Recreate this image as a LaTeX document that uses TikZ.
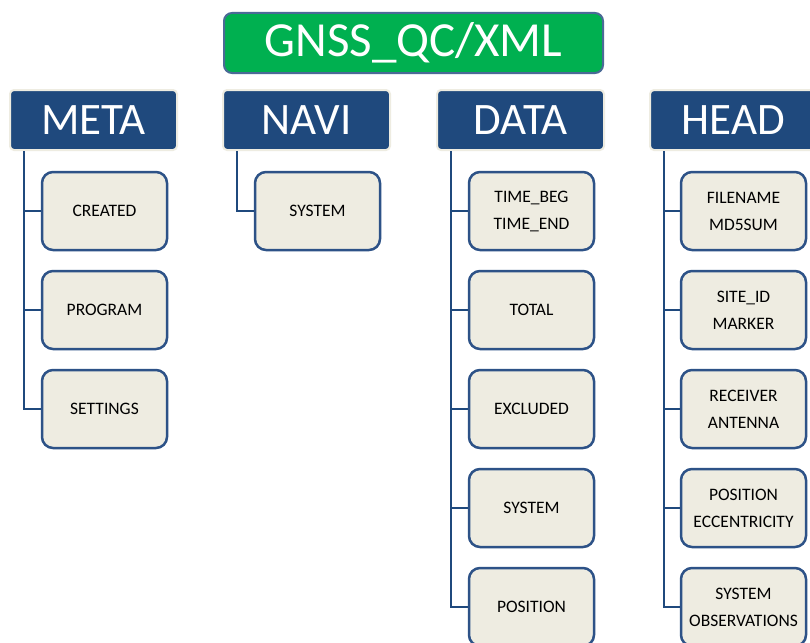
\documentclass[tikz,border=0pt]{standalone}
\usepackage{fontspec}
\setmainfont{Carlito}
\definecolor{hdrblue}{HTML}{1F497D}
\definecolor{cream}{HTML}{EEECE1}
\definecolor{boxedge}{HTML}{2D5287}
\definecolor{titlegreen}{HTML}{00B050}
\definecolor{titleedge}{HTML}{4A6A96}
\tikzset{
  titlebox/.style={draw=titleedge, line width=2pt, fill=titlegreen, rounded corners=8pt,
    minimum width=379pt, minimum height=60pt, inner sep=0pt, text=white,
    font=\fontsize{49}{52}\selectfont},
  hdrbox/.style={draw=cream, line width=2pt, fill=hdrblue, rounded corners=4pt,
    minimum width=167pt, minimum height=60pt, inner sep=0pt, text=white,
    font=\fontsize{45}{48}\selectfont},
  leaf/.style={draw=boxedge, line width=2.5pt, fill=cream, rounded corners=11pt,
    minimum width=125pt, minimum height=78pt, inner sep=0pt, align=center,
    font=\fontsize{17.5}{27}\selectfont},
  tree/.style={draw=hdrblue, line width=2.5pt}
}
\begin{document}
\begin{tikzpicture}[x=1pt,y=-1pt]
\path[clip] (0,0) rectangle (810,642);
\fill[white] (0,0) rectangle (810,642);
\node[titlebox] (title) at (413.5,43) {GNSS\_QC/XML};
\node[hdrbox] (meta) at (93.5,120) {META};
\node[hdrbox] (navi) at (306.5,120) {NAVI};
\node[hdrbox] (data) at (520.5,120) {DATA};
\node[hdrbox] (head) at (733.5,120) {HEAD};
% META
\node[leaf] (m1) at (104.5,211) {CREATED};
\node[leaf] (m2) at (104.5,310) {PROGRAM};
\node[leaf] (m3) at (104.5,409) {SETTINGS};
% NAVI
\node[leaf] (n1) at (317.5,211) {SYSTEM};
% DATA
\node[leaf] (d1) at (531.5,211) {TIME\_BEG\\TIME\_END};
\node[leaf] (d2) at (531.5,310) {TOTAL};
\node[leaf] (d3) at (531.5,409) {EXCLUDED};
\node[leaf] (d4) at (531.5,508) {SYSTEM};
\node[leaf] (d5) at (531.5,607) {POSITION};
% HEAD
\node[leaf] (h1) at (743.5,211) {FILENAME\\MD5SUM};
\node[leaf] (h2) at (743.5,310) {SITE\_ID\\MARKER};
\node[leaf] (h3) at (743.5,409) {RECEIVER\\ANTENNA};
\node[leaf] (h4) at (743.5,508) {POSITION\\ECCENTRICITY};
\node[leaf] (h5) at (743.5,607) {SYSTEM\\OBSERVATIONS};
% connectors
\foreach \c in {m1,m2,m3} \draw[tree] ([xshift=15pt]meta.south west) |- (\c.west);
\draw[tree] ([xshift=15pt]navi.south west) |- (n1.west);
\foreach \c in {d1,d2,d3,d4,d5} \draw[tree] ([xshift=15pt]data.south west) |- (\c.west);
\foreach \c in {h1,h2,h3,h4,h5} \draw[tree] ([xshift=15pt]head.south west) |- (\c.west);
\end{tikzpicture}
\end{document}
